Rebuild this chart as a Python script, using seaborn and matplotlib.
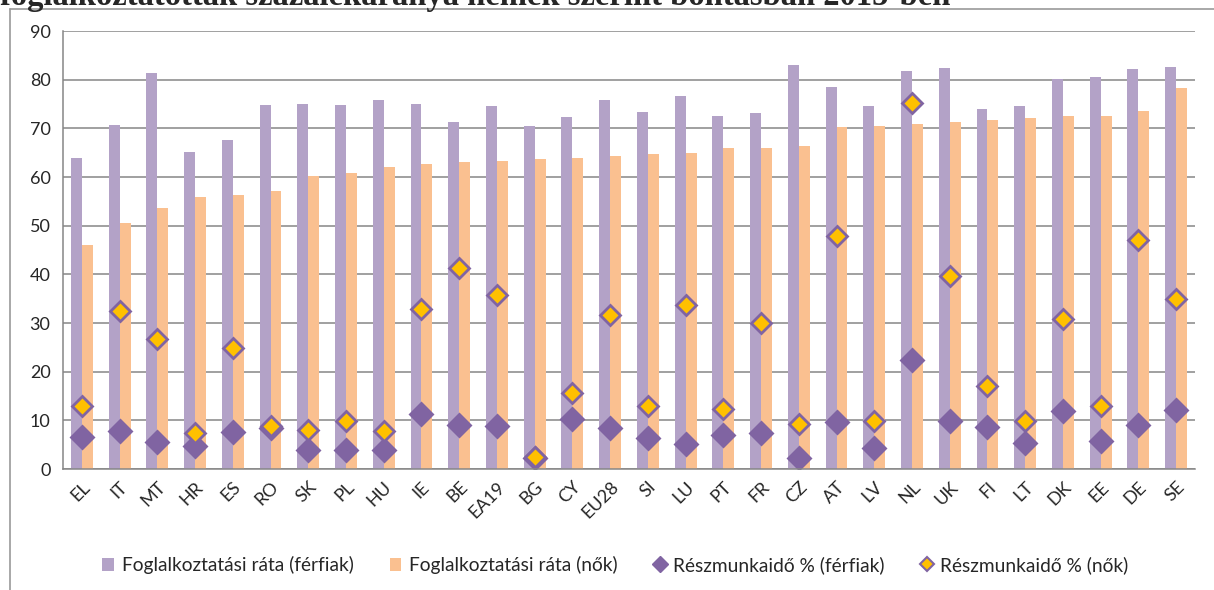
import numpy as np
import pandas as pd
import seaborn as sns
import matplotlib.pyplot as plt
from matplotlib.lines import Line2D
from matplotlib.patches import Patch

# data
countries = ['EL', 'IT', 'MT', 'HR', 'ES', 'RO', 'SK', 'PL', 'HU', 'IE', 'BE', 'EA19', 'BG', 'CY', 'EU28',
             'SI', 'LU', 'PT', 'FR', 'CZ', 'AT', 'LV', 'NL', 'UK', 'FI', 'LT', 'DK', 'EE', 'DE', 'SE']
emp_men = [64.0, 70.6, 81.4, 65.2, 67.6, 74.7, 75.0, 74.7, 75.8, 75.1, 71.2, 74.5, 70.4, 72.3, 75.9,
           73.3, 76.7, 72.6, 73.2, 83.0, 78.4, 74.6, 81.8, 82.4, 73.9, 74.6, 80.1, 80.5, 82.2, 82.5]
emp_women = [46.0, 50.6, 53.6, 55.8, 56.4, 57.2, 60.3, 60.9, 62.1, 62.6, 63.0, 63.3, 63.8, 64.0, 64.3,
             64.7, 65.0, 65.9, 66.0, 66.4, 70.2, 70.5, 70.8, 71.3, 71.8, 72.2, 72.6, 72.6, 73.6, 78.3]
pt_men = [6.6, 7.9, 5.5, 4.8, 7.6, 8.4, 3.9, 3.9, 3.9, 11.4, 9.1, 8.9, 2.2, 10.2, 8.5,
          6.3, 5.1, 6.9, 7.3, 2.2, 9.7, 4.3, 22.5, 9.8, 8.7, 5.4, 12.0, 5.7, 9.1, 12.2]
pt_women = [13.0, 32.4, 26.7, 7.3, 24.9, 8.9, 8.1, 9.9, 7.8, 32.9, 41.3, 35.8, 2.4, 15.6, 31.6,
            12.9, 33.6, 12.3, 30.1, 9.3, 47.8, 9.9, 75.3, 39.7, 17.1, 9.8, 30.9, 13.0, 47.0, 34.9]

lab_emp_m = 'Foglalkoztatási ráta (férfiak)'
lab_emp_w = 'Foglalkoztatási ráta (nők)'
lab_pt_m = 'Részmunkaidő % (férfiak)'
lab_pt_w = 'Részmunkaidő % (nők)'

c_men = '#B3A2C7'
c_women = '#FAC090'
c_dia = '#8064A2'
c_dia_w = '#FFC000'
c_grid = '#868686'

sns.set_style('white')
plt.rcParams['font.family'] = ['Lato', 'DejaVu Sans']

bars = pd.DataFrame({
    'country': countries * 2,
    'value': emp_men + emp_women,
    'series': [lab_emp_m] * len(countries) + [lab_emp_w] * len(countries),
})

fig = plt.figure(figsize=(12.14, 5.9), dpi=100)
ax = fig.add_axes([63 / 1214, 121 / 590, 1132 / 1214, 438 / 590])

sns.barplot(data=bars, x='country', y='value', hue='series', order=countries,
            palette=[c_men, c_women], saturation=1, width=0.58, gap=0, linewidth=0,
            errorbar=None, legend=False, ax=ax, zorder=2)

sns.pointplot(x=countries, y=pt_men, order=countries, color=c_dia, markers='D',
              linestyle='none', errorbar=None, ax=ax)
ln = ax.lines[-1]
ln.set_markersize(11)
ln.set_markerfacecolor(c_dia)
ln.set_markeredgecolor(c_dia)
ln.set_zorder(4)

sns.pointplot(x=countries, y=pt_women, order=countries, color=c_dia, markers='D',
              linestyle='none', errorbar=None, ax=ax)
ln = ax.lines[-1]
ln.set_markersize(10)
ln.set_markerfacecolor(c_dia_w)
ln.set_markeredgecolor(c_dia)
ln.set_markeredgewidth(2)
ln.set_zorder(5)

ax.set_ylim(0, 90)
ax.set_xlim(-0.5, len(countries) - 0.5)
ax.set_yticks(np.arange(0, 91, 10))
ax.yaxis.grid(True, color=c_grid, linewidth=1.1)
ax.set_axisbelow(True)
ax.set_xlabel('')
ax.set_ylabel('')

for s in ['top', 'right']:
    ax.spines[s].set_visible(False)
for s in ['left', 'bottom']:
    ax.spines[s].set_color(c_grid)
    ax.spines[s].set_linewidth(1.1)
    ax.spines[s].set_zorder(6)

# category boundary ticks, excel style
ax.set_xticks(np.arange(-0.5, len(countries), 1), minor=True)
ax.tick_params(axis='x', which='minor', length=5, width=1.1, color=c_grid, direction='out')
ax.tick_params(axis='x', which='major', length=0, labelsize=13, pad=7)
ax.tick_params(axis='y', which='major', length=5, width=1.1, color=c_grid, direction='out',
               labelsize=13, pad=4)
for t in ax.get_xticklabels():
    t.set_rotation(45)
    t.set_ha('right')
    t.set_rotation_mode('anchor')

handles = [
    Patch(facecolor=c_men, edgecolor='none'),
    Patch(facecolor=c_women, edgecolor='none'),
    Line2D([], [], linestyle='none', marker='D', markersize=8, markerfacecolor=c_dia, markeredgecolor=c_dia),
    Line2D([], [], linestyle='none', marker='D', markersize=7, markerfacecolor=c_dia_w,
           markeredgecolor=c_dia, markeredgewidth=1.5),
]
fig.legend(handles, [lab_emp_m, lab_emp_w, lab_pt_m, lab_pt_w], loc='center',
           bbox_to_anchor=(0.507, 1 - 565 / 590), ncol=4, frameon=False, fontsize=13.8,
           handlelength=0.6, handletextpad=0.4, columnspacing=1.9)

# outer chart frame (left and top edges visible)
fig.add_artist(Line2D([10 / 1214, 10 / 1214], [0, 1 - 9 / 590], transform=fig.transFigure,
                      color='#9A9A9A', linewidth=1.2))
fig.add_artist(Line2D([10 / 1214, 1], [1 - 9 / 590, 1 - 9 / 590], transform=fig.transFigure,
                      color='#9A9A9A', linewidth=1.2))

# title, clipped at the top edge of the image like in the source
fig.text(0.0, 1 - 5 / 590, 'foglalkoztatottak százalékaránya nemek szerint bontásban 2015-ben',
         family=['Liberation Serif', 'DejaVu Serif'], fontweight='bold', fontsize=23.5,
         ha='left', va='baseline')

fig.savefig('out.png', dpi=100)
